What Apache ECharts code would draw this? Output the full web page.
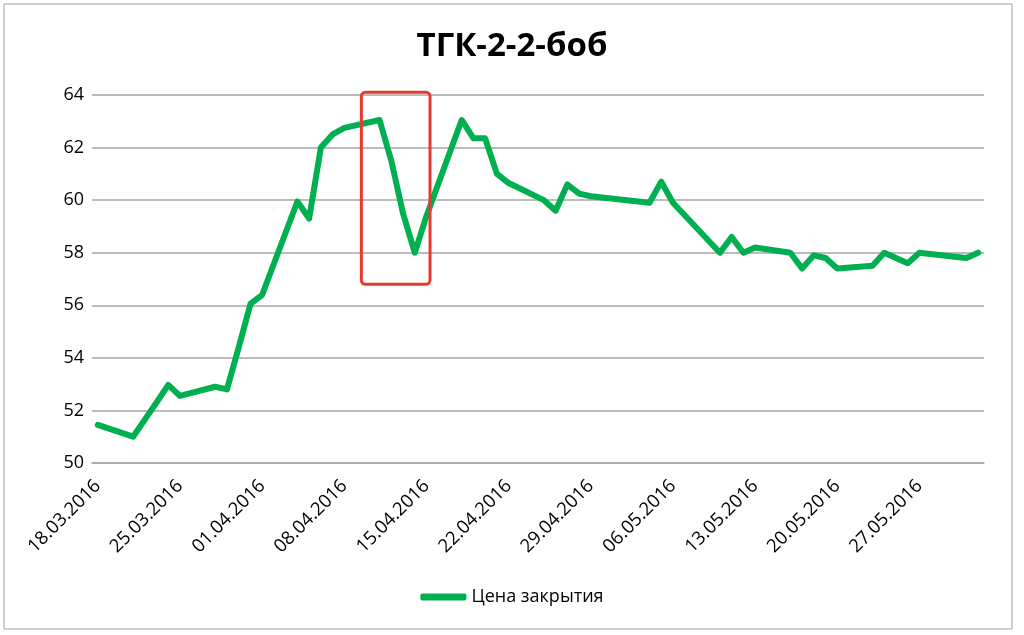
<!DOCTYPE html>
<html>
<head>
<meta charset="utf-8">
<script src="https://cdn.jsdelivr.net/npm/echarts@6/dist/echarts.min.js"></script>
<style>
html,body{margin:0;padding:0;background:#fff;}
#chart{width:1024px;height:635px;}
</style>
</head>
<body>
<div id="chart"></div>
<script>
var chartTitle = 'ТГК-2-2-боб';
var seriesName = 'Цена закрытия';
var axisStart = '2016-03-18';
var axisEnd = '2016-06-01';
var tradeDates = [
  '18.03.2016','21.03.2016','22.03.2016','23.03.2016','24.03.2016','25.03.2016',
  '28.03.2016','29.03.2016','30.03.2016','31.03.2016','01.04.2016',
  '04.04.2016','05.04.2016','06.04.2016','07.04.2016','08.04.2016',
  '11.04.2016','12.04.2016','13.04.2016','14.04.2016','15.04.2016',
  '18.04.2016','19.04.2016','20.04.2016','21.04.2016','22.04.2016',
  '25.04.2016','26.04.2016','27.04.2016','28.04.2016','29.04.2016',
  '04.05.2016','05.05.2016','06.05.2016',
  '10.05.2016','11.05.2016','12.05.2016','13.05.2016',
  '16.05.2016','17.05.2016','18.05.2016','19.05.2016','20.05.2016',
  '23.05.2016','24.05.2016','25.05.2016','26.05.2016','27.05.2016',
  '30.05.2016','31.05.2016','01.06.2016'
];
var closePrices = [
  51.45, 51.0, 51.65, 52.3, 52.97, 52.55,
  52.9, 52.8, 54.4, 56.05, 56.4,
  59.95, 59.3, 62.0, 62.5, 62.75,
  63.05, 61.5, 59.5, 58.0, 59.4,
  63.05, 62.35, 62.35, 61.0, 60.65,
  60.0, 59.6, 60.6, 60.25, 60.15,
  59.9, 60.7, 59.9,
  58.0, 58.6, 58.0, 58.2,
  58.0, 57.4, 57.9, 57.8, 57.4,
  57.5, 58.0, 57.8, 57.6, 58.0,
  57.85, 57.8, 58.0
];
var yMin = 50, yMax = 64, yStep = 2;
// highlighted region (in day-index / price units)
var boxIdxFrom = 22.45, boxIdxTo = 28.3, boxLow = 56.8, boxHigh = 64.1;

function pad(n){return n<10?'0'+n:''+n;}
var categories = [];
(function(){
  var d = new Date(axisStart+'T00:00:00Z');
  var e = new Date(axisEnd+'T00:00:00Z');
  while (d <= e) {
    categories.push(pad(d.getUTCDate())+'.'+pad(d.getUTCMonth()+1)+'.'+d.getUTCFullYear());
    d = new Date(d.getTime()+86400000);
  }
})();
var priceByDate = {};
tradeDates.forEach(function(t,i){priceByDate[t]=closePrices[i];});
var seriesData = categories.map(function(c){return priceByDate.hasOwnProperty(c)?priceByDate[c]:null;});

var chart = echarts.init(document.getElementById('chart'));
var FONT = 'Open Sans';
chart.setOption({
  animation:false,
  backgroundColor:'#fff',
  title:{text:chartTitle,left:'center',top:25,textStyle:{fontFamily:FONT,fontSize:33,fontWeight:'bold',color:'#000'}},
  grid:{left:92,right:40,top:95,bottom:172,containLabel:false},
  xAxis:{type:'category',data:categories,boundaryGap:true,
    axisLine:{show:true,lineStyle:{color:'#a6a6a6',width:1.5}},
    axisTick:{show:false},
    axisLabel:{interval:6,rotate:45,margin:20,fontFamily:FONT,fontSize:18.5,color:'#000'},
    splitLine:{show:false}},
  yAxis:{type:'value',min:yMin,max:yMax,interval:yStep,
    axisLine:{show:false},axisTick:{show:false},
    axisLabel:{margin:8,fontFamily:FONT,fontSize:18,color:'#000'},
    splitLine:{show:true,lineStyle:{color:'#a6a6a6',width:1.5}}},
  legend:{bottom:24,left:'center',itemWidth:46,itemHeight:7,itemGap:5,icon:'roundRect',
    textStyle:{fontFamily:FONT,fontSize:18,color:'#000'},data:[seriesName]},
  series:[{name:seriesName,type:'line',data:seriesData,connectNulls:true,showSymbol:false,symbol:'none',
    lineStyle:{color:'#00b050',width:6,cap:'round',join:'round'},itemStyle:{color:'#00b050'}}]
});

var p0 = chart.convertToPixel({xAxisIndex:0},0);
var p1 = chart.convertToPixel({xAxisIndex:0},1);
var step = p1-p0;
var bx0 = p0+boxIdxFrom*step, bx1 = p0+boxIdxTo*step;
var by0 = chart.convertToPixel({yAxisIndex:0},boxHigh), by1 = chart.convertToPixel({yAxisIndex:0},boxLow);
chart.setOption({graphic:[
  {type:'rect',shape:{x:4,y:4,width:1008,height:625},style:{fill:'none',stroke:'#a0a0a0',lineWidth:1},silent:true},
  {type:'rect',shape:{x:bx0,y:by0,width:bx1-bx0,height:by1-by0,r:4},style:{fill:'none',stroke:'#e53a2f',lineWidth:3},z:100,silent:true}
]});
</script>
</body>
</html>
